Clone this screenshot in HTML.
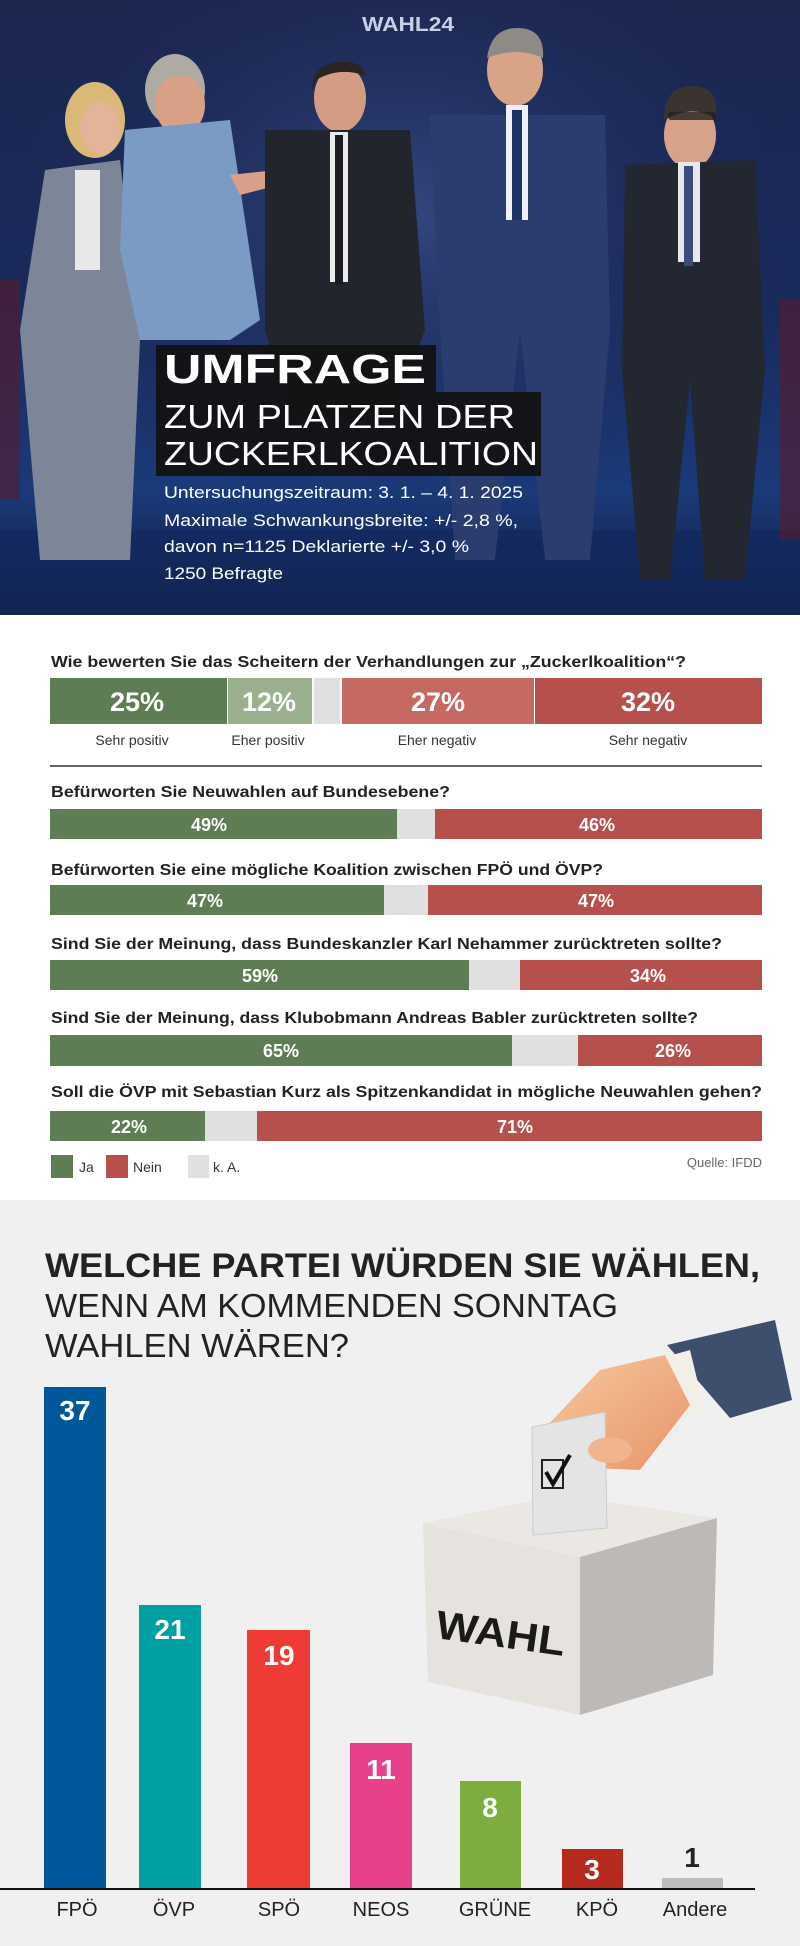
<!DOCTYPE html>
<html><head><meta charset="utf-8"><style>
html,body{margin:0;padding:0;background:#fff;}
svg{display:block;}
text{font-family:"Liberation Sans",sans-serif;}
</style></head><body>
<svg width="800" height="1946" viewBox="0 0 800 1946" xmlns="http://www.w3.org/2000/svg">
<defs>
<linearGradient id="bg" x1="0" y1="0" x2="0" y2="1">
<stop offset="0" stop-color="#1c2750"/><stop offset="0.5" stop-color="#1a2a5c"/><stop offset="0.8" stop-color="#1b3a7a"/><stop offset="1" stop-color="#0f1a3a"/></linearGradient>
<radialGradient id="glow" cx="0.5" cy="0.35" r="0.5"><stop offset="0" stop-color="#3a4f8a" stop-opacity="0.8"/><stop offset="1" stop-color="#1a2550" stop-opacity="0"/></radialGradient>
<linearGradient id="skin" x1="0" y1="0" x2="1" y2="1"><stop offset="0" stop-color="#f7c9a0"/><stop offset="1" stop-color="#e8946a"/></linearGradient>
</defs>
<rect x="0" y="0" width="800" height="615" fill="url(#bg)"/>
<rect x="0" y="0" width="800" height="615" fill="url(#glow)"/>
<rect x="0" y="530" width="800" height="85" fill="#13285e" opacity="0.7"/>
<rect x="780" y="300" width="20" height="240" fill="#5a1a2a" opacity="0.6"/>
<rect x="0" y="280" width="20" height="220" fill="#5a1a2a" opacity="0.6"/>
<text x="362" y="31" font-size="20" font-weight="bold" fill="#c8d0e8" textLength="92" lengthAdjust="spacingAndGlyphs">WAHL24</text>
<ellipse cx="95" cy="120" rx="30" ry="38" fill="#d9b878"/>
<ellipse cx="100" cy="128" rx="20" ry="26" fill="#e2b49a"/>
<path d="M45 170 L120 160 L140 340 L130 560 L40 560 L20 330 Z" fill="#7d8599"/>
<rect x="75" y="170" width="25" height="100" fill="#e8e8e8"/>
<ellipse cx="175" cy="90" rx="30" ry="36" fill="#b0aaa4"/>
<ellipse cx="180" cy="105" rx="25" ry="30" fill="#d9a088"/>
<path d="M125 130 L230 120 L260 320 L230 340 L140 340 L120 250 Z" fill="#7b9ac4"/>
<path d="M230 175 L295 168 L298 180 L240 195 Z" fill="#d9a088"/>
<ellipse cx="340" cy="98" rx="26" ry="34" fill="#d59c84"/>
<path d="M340 62 q-28 2 -28 28 l4 -10 q24 -14 50 -4 q-4 -16 -26 -14z" fill="#2a2522"/>
<path d="M265 130 L410 130 L425 330 L390 420 L290 420 L265 330 Z" fill="#22252e"/>
<rect x="330" y="132" width="18" height="150" fill="#eaeaea"/>
<rect x="335" y="135" width="8" height="150" fill="#1a1c22"/>
<ellipse cx="515" cy="70" rx="28" ry="36" fill="#d7a488"/>
<path d="M487 58 q4 -30 30 -30 q28 0 26 30 q-26 -12 -56 0z" fill="#8e8a86"/>
<path d="M430 115 L605 115 L610 330 L590 560 L545 560 L520 330 L495 560 L455 560 L440 330 Z" fill="#2b3d6f"/>
<rect x="506" y="105" width="22" height="115" fill="#eef0f5"/>
<rect x="512" y="110" width="10" height="110" fill="#1e3366"/>
<ellipse cx="690" cy="135" rx="26" ry="34" fill="#d6a28a"/>
<path d="M664 120 q0 -34 28 -34 q28 0 24 32 q-24 -14 -52 2z" fill="#3a3330"/>
<rect x="668" y="112" width="48" height="8" rx="3" fill="#222" opacity="0.8"/>
<path d="M625 165 L755 160 L765 370 L745 580 L705 580 L690 380 L670 580 L640 580 L622 370 Z" fill="#222732"/>
<rect x="678" y="162" width="22" height="100" fill="#e8e8ec"/>
<rect x="684" y="166" width="9" height="100" fill="#3b4c7a"/>
<rect x="156" y="345" width="280" height="48" fill="#111" opacity="0.92"/>
<rect x="156" y="392" width="385" height="84" fill="#111" opacity="0.92"/>
<text x="164" y="383" font-size="41" font-weight="bold" fill="#fff" textLength="262" lengthAdjust="spacingAndGlyphs">UMFRAGE</text>
<text x="164" y="428" font-size="33" fill="#fff" textLength="351" lengthAdjust="spacingAndGlyphs">ZUM PLATZEN DER</text>
<text x="164" y="465" font-size="33" fill="#fff" textLength="374" lengthAdjust="spacingAndGlyphs">ZUCKERLKOALITION</text>
<text x="164" y="498" font-size="17" fill="#fff" textLength="359" lengthAdjust="spacingAndGlyphs">Untersuchungszeitraum:  3. 1. – 4. 1. 2025</text>
<text x="164" y="526" font-size="17" fill="#fff" textLength="354" lengthAdjust="spacingAndGlyphs">Maximale Schwankungsbreite: +/- 2,8 %,</text>
<text x="164" y="552" font-size="17" fill="#fff" textLength="305" lengthAdjust="spacingAndGlyphs">davon n=1125 Deklarierte +/- 3,0 %</text>
<text x="164" y="579" font-size="17" fill="#fff" textLength="119" lengthAdjust="spacingAndGlyphs">1250 Befragte</text>

<rect x="0" y="615" width="800" height="585" fill="#fff"/>
<g font-size="16" font-weight="bold" fill="#222">
<text x="51" y="667" textLength="635" lengthAdjust="spacingAndGlyphs">Wie bewerten Sie das Scheitern der Verhandlungen zur „Zuckerlkoalition“?</text>
<text x="51" y="797" textLength="399" lengthAdjust="spacingAndGlyphs">Befürworten Sie Neuwahlen auf Bundesebene?</text>
<text x="51" y="875" textLength="552" lengthAdjust="spacingAndGlyphs">Befürworten Sie eine mögliche Koalition zwischen FPÖ und ÖVP?</text>
<text x="51" y="949" textLength="671" lengthAdjust="spacingAndGlyphs">Sind Sie der Meinung, dass Bundeskanzler Karl Nehammer zurücktreten sollte?</text>
<text x="51" y="1023" textLength="647" lengthAdjust="spacingAndGlyphs">Sind Sie der Meinung, dass Klubobmann Andreas Babler zurücktreten sollte?</text>
<text x="51" y="1097" textLength="711" lengthAdjust="spacingAndGlyphs">Soll die ÖVP mit Sebastian Kurz als Spitzenkandidat in mögliche Neuwahlen gehen?</text>
</g>
<rect x="50" y="678" width="177" height="46" fill="#5f7d54"/>
<rect x="228" y="678" width="84" height="46" fill="#9bb08e"/>
<rect x="314" y="678" width="26" height="46" fill="#e0e0e0"/>
<rect x="342" y="678" width="192" height="46" fill="#c56a62"/>
<rect x="535" y="678" width="227" height="46" fill="#b5504d"/>
<g font-size="27" font-weight="bold" fill="#fff" text-anchor="middle">
<text x="137" y="711">25%</text><text x="269" y="711">12%</text><text x="438" y="711">27%</text><text x="648" y="711">32%</text></g>
<g font-size="14" fill="#333" text-anchor="middle">
<text x="132" y="745">Sehr positiv</text><text x="268" y="745">Eher positiv</text><text x="437" y="745">Eher negativ</text><text x="648" y="745">Sehr negativ</text></g>
<rect x="50" y="765" width="712" height="2" fill="#666"/>
<g>
<rect x="50" y="809" width="712" height="30" fill="#e0e0e0"/><rect x="50" y="809" width="347" height="30" fill="#5f7d54"/><rect x="435" y="809" width="327" height="30" fill="#b5504d"/>
<rect x="50" y="885" width="712" height="30" fill="#e0e0e0"/><rect x="50" y="885" width="334" height="30" fill="#5f7d54"/><rect x="428" y="885" width="334" height="30" fill="#b5504d"/>
<rect x="50" y="960" width="712" height="30" fill="#e0e0e0"/><rect x="50" y="960" width="419" height="30" fill="#5f7d54"/><rect x="520" y="960" width="242" height="30" fill="#b5504d"/>
<rect x="50" y="1035" width="712" height="31" fill="#e0e0e0"/><rect x="50" y="1035" width="462" height="31" fill="#5f7d54"/><rect x="578" y="1035" width="184" height="31" fill="#b5504d"/>
<rect x="50" y="1111" width="712" height="30" fill="#e0e0e0"/><rect x="50" y="1111" width="155" height="30" fill="#5f7d54"/><rect x="257" y="1111" width="505" height="30" fill="#b5504d"/>
</g>
<g font-size="18" font-weight="bold" fill="#fff" text-anchor="middle">
<text x="209" y="831">49%</text><text x="597" y="831">46%</text>
<text x="205" y="907">47%</text><text x="596" y="907">47%</text>
<text x="260" y="982">59%</text><text x="648" y="982">34%</text>
<text x="281" y="1057">65%</text><text x="673" y="1057">26%</text>
<text x="129" y="1133">22%</text><text x="515" y="1133">71%</text>
</g>
<rect x="51" y="1155" width="22" height="23" fill="#5f7d54"/>
<rect x="106" y="1155" width="22" height="23" fill="#b5504d"/>
<rect x="188" y="1155" width="21" height="23" fill="#e0e0e0"/>
<g font-size="14" fill="#333"><text x="79" y="1172">Ja</text><text x="133" y="1172">Nein</text><text x="213" y="1172">k. A.</text></g>
<text x="762" y="1167" font-size="13" fill="#666" text-anchor="end">Quelle: IFDD</text>

<rect x="0" y="1200" width="800" height="746" fill="#f0f0f0"/>
<text x="45" y="1277" font-size="34" font-weight="bold" fill="#222" textLength="715" lengthAdjust="spacingAndGlyphs">WELCHE PARTEI WÜRDEN SIE WÄHLEN,</text>
<text x="45" y="1317" font-size="33" fill="#222" textLength="573" lengthAdjust="spacingAndGlyphs">WENN AM KOMMENDEN SONNTAG</text>
<text x="45" y="1357" font-size="33" fill="#222" textLength="304" lengthAdjust="spacingAndGlyphs">WAHLEN WÄREN?</text>
<polygon points="667,1345 775,1320 792,1400 730,1418" fill="#3e4f6e"/>
<polygon points="655,1360 690,1350 705,1412 672,1420" fill="#f2eee8"/>
<polygon points="543,1430 600,1370 665,1355 690,1405 640,1470 590,1468" fill="url(#skin)"/>
<polygon points="423,1523 560,1495 717,1518 580,1557" fill="#ebe7e3"/>
<polygon points="423,1523 580,1557 580,1715 428,1682" fill="#e6e2de"/>
<polygon points="580,1557 717,1518 713,1675 580,1715" fill="#bdb9b6"/>
<polygon points="532,1427 605,1412 607,1528 533,1535" fill="#e4e4e4" stroke="#ccc"/>
<rect x="542" y="1460" width="21" height="28" fill="none" stroke="#222" stroke-width="2"/>
<path d="M546 1472 L553 1484 L570 1455" fill="none" stroke="#111" stroke-width="4"/>
<ellipse cx="610" cy="1450" rx="22" ry="13" fill="#f0b48e"/>
<text x="437" y="1638" font-size="40" font-weight="bold" fill="#1a1a1a" font-family="Liberation Serif,serif" transform="rotate(8 437 1620)" textLength="130" lengthAdjust="spacingAndGlyphs">WAHL</text>
<rect x="44" y="1387" width="62" height="502" fill="#00589a"/>
<rect x="139" y="1605" width="62" height="284" fill="#00a0a2"/>
<rect x="247" y="1630" width="63" height="259" fill="#ef3b36"/>
<rect x="350" y="1743" width="62" height="146" fill="#e8418c"/>
<rect x="460" y="1781" width="61" height="108" fill="#7fac3f"/>
<rect x="562" y="1849" width="61" height="40" fill="#b52a1c"/>
<rect x="662" y="1878" width="61" height="11" fill="#bdbdbd"/>
<rect x="0" y="1888" width="755" height="2" fill="#111"/>
<g font-size="28" font-weight="bold" fill="#fff" text-anchor="middle">
<text x="75" y="1420">37</text><text x="170" y="1639">21</text><text x="279" y="1665">19</text>
<text x="381" y="1779">11</text><text x="490" y="1817">8</text><text x="592" y="1879">3</text>
<text x="692" y="1867" fill="#222">1</text></g>
<g font-size="20" fill="#222" text-anchor="middle">
<text x="77" y="1916">FPÖ</text><text x="174" y="1916">ÖVP</text><text x="279" y="1916">SPÖ</text>
<text x="381" y="1916">NEOS</text><text x="495" y="1916">GRÜNE</text><text x="597" y="1916">KPÖ</text><text x="695" y="1916">Andere</text></g>
</svg>
</body></html>
